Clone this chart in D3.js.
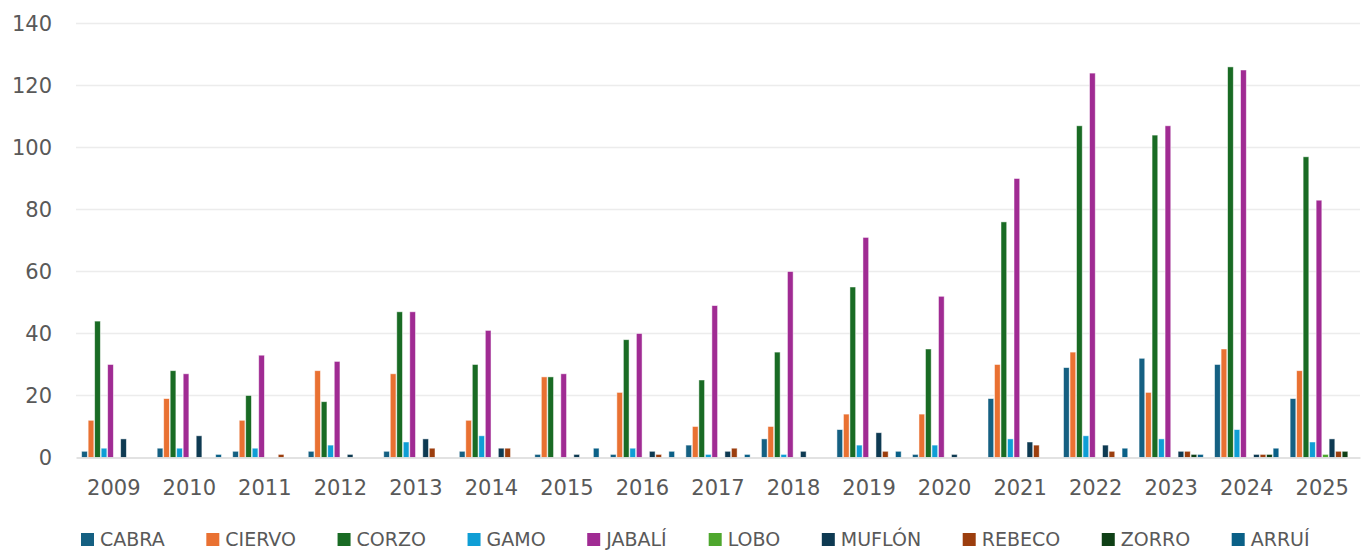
<script src="https://d3js.org/d3.v7.min.js"></script>

<style>
  body { margin: 0; background: #fff; }
  text { font-family: "DejaVu Sans", sans-serif; fill: #595959; }
</style>

<div id="container"></div>

<script>
// years on the x axis
var years = ["2009", "2010", "2011", "2012", "2013", "2014", "2015", "2016", "2017",
             "2018", "2019", "2020", "2021", "2022", "2023", "2024", "2025"];

var species = ["CABRA", "CIERVO", "CORZO", "GAMO", "JABALÍ", "LOBO", "MUFLÓN", "REBECO", "ZORRO", "ARRUÍ"];
var colors = ["#156082", "#e97132", "#196b24", "#0f9ed5", "#a02b93", "#4ea72e", "#0e3a52", "#9c3e0e", "#0f4016", "#0a6087"];

// one array per species, same order as years
var cabra  = [2, 3, 2, 2, 2, 2, 1, 1, 4, 6, 9, 1, 19, 29, 32, 30, 19];
var ciervo = [12, 19, 12, 28, 27, 12, 26, 21, 10, 10, 14, 14, 30, 34, 21, 35, 28];
var corzo  = [44, 28, 20, 18, 47, 30, 26, 38, 25, 34, 55, 35, 76, 107, 104, 126, 97];
var gamo   = [3, 3, 3, 4, 5, 7, 0, 3, 1, 1, 4, 4, 6, 7, 6, 9, 5];
var jabali = [30, 27, 33, 31, 47, 41, 27, 40, 49, 60, 71, 52, 90, 124, 107, 125, 83];
var lobo   = [0, 0, 0, 0, 0, 0, 0, 0, 0, 0, 0, 0, 0, 0, 0, 0, 1];
var muflon = [6, 7, 0, 1, 6, 3, 1, 2, 2, 2, 8, 1, 5, 4, 2, 1, 6];
var rebeco = [0, 0, 1, 0, 3, 3, 0, 1, 3, 0, 2, 0, 4, 2, 2, 1, 2];
var zorro  = [0, 0, 0, 0, 0, 0, 0, 0, 0, 0, 0, 0, 0, 0, 1, 1, 2];
var arrui  = [0, 1, 0, 0, 0, 0, 3, 2, 1, 0, 2, 0, 0, 3, 1, 3, 0];

var yTicks = [0, 20, 40, 60, 80, 100, 120, 140];

var series = [cabra, ciervo, corzo, gamo, jabali, lobo, muflon, rebeco, zorro, arrui];

var W = 1370, H = 551;
var plot = { left: 76, right: 1360, top: 23.5, bottom: 457.5 };

var svg = d3.select("#container").append("svg")
  .attr("width", W)
  .attr("height", H);

var x0 = d3.scaleBand()
  .domain(years)
  .range([plot.left, plot.right])
  .padding(0);

var x1 = d3.scaleBand()
  .domain(species)
  .range([5.25, x0.bandwidth() - 5.25])
  .padding(0);

var y = d3.scaleLinear()
  .domain([0, 140])
  .range([plot.bottom, plot.top]);

// gridlines
svg.append("g")
  .selectAll("line")
  .data(yTicks.filter(function (d) { return d > 0; }))
  .enter()
  .append("line")
    .attr("x1", plot.left)
    .attr("x2", plot.right)
    .attr("y1", function (d) { return y(d); })
    .attr("y2", function (d) { return y(d); })
    .attr("stroke", "#ececec")
    .attr("stroke-width", 1.3);

// y labels
var yAxis = svg.append("g")
  .attr("transform", "translate(52,0)")
  .call(d3.axisLeft(y).tickValues(yTicks).tickSize(0).tickPadding(0));
yAxis.select(".domain").remove();
yAxis.selectAll("text")
  .style("font-size", "21px")
  .style("fill", "#595959")
  .style("font-family", "DejaVu Sans, sans-serif");

// bars
var rows = years.map(function (yr, i) {
  return { year: yr, vals: species.map(function (s, j) { return { name: s, value: series[j][i], color: colors[j] }; }) };
});

svg.append("g")
  .selectAll("g")
  .data(rows)
  .enter()
  .append("g")
    .attr("transform", function (d) { return "translate(" + x0(d.year) + ",0)"; })
  .selectAll("rect")
  .data(function (d) { return d.vals.filter(function (v) { return v.value > 0; }); })
  .enter()
  .append("rect")
    .attr("x", function (d) { return x1(d.name) + 0.4; })
    .attr("width", x1.bandwidth() - 0.8)
    .attr("y", function (d) { return y(d.value); })
    .attr("height", function (d) { return y(0) - y(d.value); })
    .attr("fill", function (d) { return d.color; })
    .attr("stroke", "#ffffff")
    .attr("stroke-opacity", 0.6)
    .attr("stroke-width", 0.8);

// x axis
var xAxis = svg.append("g")
  .attr("transform", "translate(0," + plot.bottom + ")")
  .call(d3.axisBottom(x0).tickSize(0).tickPadding(23));
xAxis.select(".domain")
  .attr("stroke", "#d9d9d9")
  .attr("stroke-width", 1.5);
xAxis.selectAll("text")
  .style("font-size", "21px")
  .style("fill", "#595959")
  .style("font-family", "DejaVu Sans, sans-serif");

// legend
var legend = svg.append("g");
var items = legend.selectAll("g")
  .data(species)
  .enter()
  .append("g");
items.append("rect")
  .attr("y", 533)
  .attr("width", 13)
  .attr("height", 13)
  .attr("fill", function (d, i) { return colors[i]; });
items.append("text")
  .attr("x", 19)
  .attr("y", 546)
  .style("font-size", "19px")
  .text(function (d) { return d; });

// lay out the legend items so it spans about the same width as the original
var widths = [];
items.each(function () { widths.push(this.getBBox().width); });
var totalText = d3.sum(widths);
var legendWidth = 1229;
var gap = (legendWidth - totalText) / (species.length - 1);
var xpos = 81;
items.attr("transform", function (d, i) {
  var t = "translate(" + xpos + ",0)";
  xpos += widths[i] + gap;
  return t;
});
</script>
